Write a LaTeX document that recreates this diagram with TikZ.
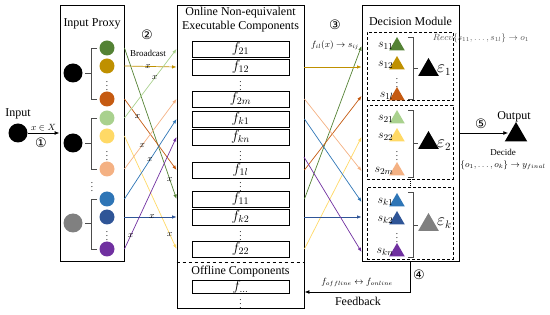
\documentclass[tikz,border=0pt]{standalone}
\usepackage{fontspec}
\setmainfont{Liberation Serif}
\newfontfamily\numfont{DejaVu Sans}
\usetikzlibrary{shapes.geometric,arrows.meta}
\definecolor{cgreen}{HTML}{548235}
\definecolor{cgold}{HTML}{BF9000}
\definecolor{corange}{HTML}{C55A11}
\definecolor{clgreen}{HTML}{A9D18E}
\definecolor{cyellow}{HTML}{FFD966}
\definecolor{clorange}{HTML}{F4B183}
\definecolor{cblue}{HTML}{2E75B6}
\definecolor{cdblue}{HTML}{2F5597}
\definecolor{cpurple}{HTML}{7030A0}
\definecolor{cgray}{HTML}{808080}
\begin{document}
\begin{tikzpicture}[x=1pt, y=-1pt,
  box/.style={draw, line width=0.9pt, inner sep=0pt},
  fbox/.style={draw, line width=0.9pt, minimum width=97pt, minimum height=16pt, inner sep=0pt, font=\fontsize{14}{14}\selectfont},
  dot/.style={circle, fill=#1, minimum size=15pt, inner sep=0pt},
  bigdot/.style={circle, fill=#1, minimum size=19pt, inner sep=0pt},
  tri/.style={regular polygon, regular polygon sides=3, fill=#1, minimum size=18pt, inner sep=0pt},
  bigtri/.style={regular polygon, regular polygon sides=3, fill=#1, minimum size=24pt, inner sep=0pt},
  grp/.style={draw, densely dashed, line width=0.7pt, minimum width=86pt, inner sep=0pt},
  link/.style={-{Latex[length=4.5pt,width=3.5pt]}, line width=0.7pt, draw=#1},
  main/.style={-{Latex[length=5pt,width=4pt]}, line width=0.9pt},
  brace/.style={line width=0.5pt, draw=black!70},
  vdot/.style={inner sep=0pt, font=\small},
  xlab/.style={font=\small, inner sep=0pt},
  slab/.style={anchor=east, inner sep=0pt, font=\fontsize{13}{13}\selectfont},
  num/.style={font=\numfont\fontsize{13}{13}\selectfont, inner sep=0pt},
  title/.style={font=\large, align=center, inner sep=0pt}]
  \useasboundingbox (0,0) rectangle (550,315);

  % input
  \node[bigdot=black] (inp) at (18,133) {};
  \node[title] (inlab) at (18,114) {Input};

  % input proxy
  \node[box, minimum width=64pt, minimum height=256pt] (proxy) at (92,133) {};
  \node[title] (proxyt) at (92,24) {Input Proxy};
  \node[bigdot=black] (b1) at (73,73) {};
  \node[bigdot=black] (b2) at (73,143) {};
  \node[bigdot=cgray] (bk) at (73,223) {};
  \node[dot=cgreen] (c11) at (107,48) {};
  \node[dot=cgold] (c12) at (107,66) {};
  \node[vdot] (u1) at (107,83) {$\vdots$};
  \node[dot=corange] (c1l) at (107,99) {};
  \node[dot=clgreen] (c21) at (107,118) {};
  \node[dot=cyellow] (c22) at (107,136) {};
  \node[vdot] (u2) at (107,153) {$\vdots$};
  \node[dot=clorange] (c2m) at (107,169) {};
  \node[vdot] (u3) at (92,184) {$\vdots$};
  \node[dot=cblue] (ck1) at (107,199) {};
  \node[dot=cdblue] (ck2) at (107,217) {};
  \node[vdot] (u4) at (107,233) {$\vdots$};
  \node[dot=cpurple] (ckn) at (107,249) {};
  \draw[brace] (97,48) -- (91,48) -- (91,99) -- (97,99);
  \draw[brace] (91,73) -- (85,73);
  \draw[brace] (97,118) -- (91,118) -- (91,169) -- (97,169);
  \draw[brace] (91,143) -- (85,143);
  \draw[brace] (97,199) -- (91,199) -- (91,249) -- (97,249);
  \draw[brace] (91,223) -- (85,223);

  % online components
  \node[box, minimum width=127pt, minimum height=303pt] (online) at (240.5,156.5) {};
  \node[title] (onlinet) at (240.5,20) {Online Non-equivalent\\Executable Components};
  \node[fbox] (f21) at (240.5,49) {$f_{21}$};
  \node[fbox] (f12) at (240.5,67) {$f_{12}$};
  \node[vdot] (v1) at (240.5,83) {$\vdots$};
  \node[fbox] (f2m) at (240.5,99) {$f_{2m}$};
  \node[fbox] (fk1) at (240.5,119) {$f_{k1}$};
  \node[fbox] (fkn) at (240.5,137) {$f_{kn}$};
  \node[vdot] (v2) at (240.5,153.5) {$\vdots$};
  \node[fbox] (f1l) at (240.5,170) {$f_{1l}$};
  \node[vdot] (v3) at (240.5,184.5) {$\vdots$};
  \node[fbox] (f11) at (240.5,199) {$f_{11}$};
  \node[fbox] (fk2) at (240.5,217) {$f_{k2}$};
  \node[vdot] (v4) at (240.5,233) {$\vdots$};
  \node[fbox] (f22) at (240.5,249) {$f_{22}$};
  \coordinate (sep) at (0,262);
  \draw[dashed, line width=0.7pt] (online.west |- sep) -- (online.east |- sep);
  \node[title] (offt) at (240.5,272) {Offline Components};
  \node[fbox, minimum height=12pt] (fo) at (240.5,287) {$f_{\ldots}$};
  \node[vdot] (v5) at (240.5,301) {$\vdots$};

  % decision module
  \node[box, minimum width=97pt, minimum height=256pt] (dec) at (410.5,133) {};
  \node[title] (dect) at (410.5,21) {Decision Module};
  \node[grp, minimum height=68pt] (g1) at (410,66) {};
  \node[grp, minimum height=74pt] (g2) at (410,142) {};
  \node[grp, minimum height=72pt] (gk) at (410,223) {};
  \draw[densely dotted, line width=0.8pt] (g2.south) -- (gk.north);
  \node[tri=cgreen] (s11) at (397,46) {};
  \node[tri=cgold] (s12) at (397,65) {};
  \node[vdot] (w1) at (397,80) {$\vdots$};
  \node[tri=corange] (s1l) at (397,96) {};
  \node[tri=clgreen] (s21) at (397,119) {};
  \node[tri=cyellow] (s22) at (397,137) {};
  \node[vdot] (w2) at (397,153) {$\vdots$};
  \node[tri=clorange] (s2m) at (397,171) {};
  \node[tri=cblue] (sk1) at (397,202) {};
  \node[tri=cdblue] (sk2) at (397,220) {};
  \node[vdot] (w3) at (397,235) {$\vdots$};
  \node[tri=cpurple] (skn) at (397,252) {};
  \node[slab] (l11) at ([xshift=2pt]s11.west) {$s_{11}$};
  \node[slab] (l12) at ([xshift=2pt]s12.west) {$s_{12}$};
  \node[slab] (l1l) at ([xshift=2pt]s1l.west) {$s_{1l}$};
  \node[slab] (l21) at ([xshift=2pt]s21.west) {$s_{21}$};
  \node[slab] (l22) at ([xshift=2pt]s22.west) {$s_{22}$};
  \node[slab] (l2m) at ([xshift=2pt]s2m.west) {$s_{2m}$};
  \node[slab] (lk1) at ([xshift=2pt]sk1.west) {$s_{k1}$};
  \node[slab] (lk2) at ([xshift=2pt]sk2.west) {$s_{k2}$};
  \node[slab] (lkn) at ([xshift=2pt]skn.west) {$s_{kn}$};
  \draw[brace] (408,37) -- (413,37) -- (413,99) -- (408,99);
  \draw[brace] (413,68) -- (418,68);
  \draw[brace] (408,110) -- (413,110) -- (413,177) -- (408,177);
  \draw[brace] (413,143) -- (418,143);
  \draw[brace] (408,192) -- (413,192) -- (413,257) -- (408,257);
  \draw[brace] (413,225) -- (418,225);
  \node[bigtri=black] (t1) at (428.5,70) {};
  \node[bigtri=black] (t2) at (428.5,143) {};
  \node[bigtri=cgray] (tk) at (428.5,225) {};
  \node[anchor=west, inner sep=0pt, font=\fontsize{16}{16}\selectfont] (eps1) at (437,70) {$\varepsilon_1$};
  \node[anchor=west, inner sep=0pt, font=\fontsize{16}{16}\selectfont] (eps2) at (437,145) {$\varepsilon_2$};
  \node[anchor=west, inner sep=0pt, font=\fontsize{16}{16}\selectfont] (epsk) at (437,223) {$\varepsilon_k$};
  \node[font=\small, text=black!70, inner sep=0pt] (rlab) at (481,38) {$Recv\{s_{11},\ldots,s_{1l}\}\rightarrow o_1$};

  % output
  \node[bigtri=black, minimum size=26pt] (outT) at (516,135) {};
  \node[title] (outl) at (514,117) {Output};

  % input arrow
  \draw[main] (inp) -- node[above, font=\small, inner sep=2pt] (xin) {$x\in X$} (inp -| proxy.west);
  \node[num] (n1) at (41,143) {①};

  % broadcast
  \node[num] (n2) at (147,35) {②};
  \node[font=\small, inner sep=0pt] (bc) at (148,53) {Broadcast};
  \draw[link=cgreen] (c11 -| proxy.east) -- node[xlab, pos=0.87] {$x$} (f11 -| online.west);
  \draw[link=cgold] (c12 -| proxy.east) -- node[xlab, pos=0.45] {$x$} (f12 -| online.west);
  \draw[link=corange] (c1l -| proxy.east) -- node[xlab, pos=0.25] {$x$} (f1l -| online.west);
  \draw[link=clgreen] (c21 -| proxy.east) -- node[xlab, pos=0.58] {$x$} (f21 -| online.west);
  \draw[link=cyellow] (c22 -| proxy.east) -- node[xlab, pos=0.87] {$x$} (f22 -| online.west);
  \draw[link=clorange] (c2m -| proxy.east) -- node[xlab, pos=0.34] {$x$} (f2m -| online.west);
  \draw[link=cblue] (ck1 -| proxy.east) -- node[xlab, pos=0.49] {$x$} (fk1 -| online.west);
  \draw[link=cdblue] (ck2 -| proxy.east) -- node[xlab, pos=0.53] {$x$} (fk2 -| online.west);
  \draw[link=cpurple] (ckn -| proxy.east) -- node[xlab, pos=0.12] {$x$} (fkn -| online.west);

  % components to decision module
  \node[num] (n3) at (335,25) {③};
  \node[font=\small, inner sep=0pt] (flab) at (335,45) {$f_{il}(x)\rightarrow s_{ij}$};
  \coordinate (fkout) at (304,157);
  \draw[link=cgreen] (f11 -| online.east) -- (s11 -| dec.west);
  \draw[link=cgold] (f12 -| online.east) -- (f12 -| dec.west);
  \draw[link=corange] (f1l -| online.east) -- (s1l -| dec.west);
  \draw[link=clorange] (f2m -| online.east) -- (s2m -| dec.west);
  \draw[link=cyellow] (f22 -| online.east) -- (s22 -| dec.west);
  \draw[link=cblue] (fk1 -| online.east) -- (sk1 -| dec.west);
  \draw[link=cdblue] (fk2 -| online.east) -- (fk2 -| dec.west);
  \draw[link=cpurple] (fkout) -- (skn -| dec.west);

  % output arrow
  \node[num] (n5) at (481,124) {⑤};
  \draw[main] (dec.east) -- (dec.east -| outT.west);
  \node[font=\small, inner sep=0pt] (dlab) at (503,152) {Decide};
  \node[font=\small, inner sep=0pt] (ylab) at (503,165) {$\{o_1,\ldots,o_k\}\rightarrow y_{final}$};

  % feedback
  \coordinate (fbc) at (410,292);
  \draw[main] (dec.south) |- (fbc -| online.east);
  \node[font=\small, inner sep=0pt] (fblab) at (357,282) {$f_{offline}\leftrightarrow f_{online}$};
  \node[title] (fbt) at (358,301) {Feedback};
  \node[num] (n4) at (419,275) {④};
\end{tikzpicture}
\end{document}
